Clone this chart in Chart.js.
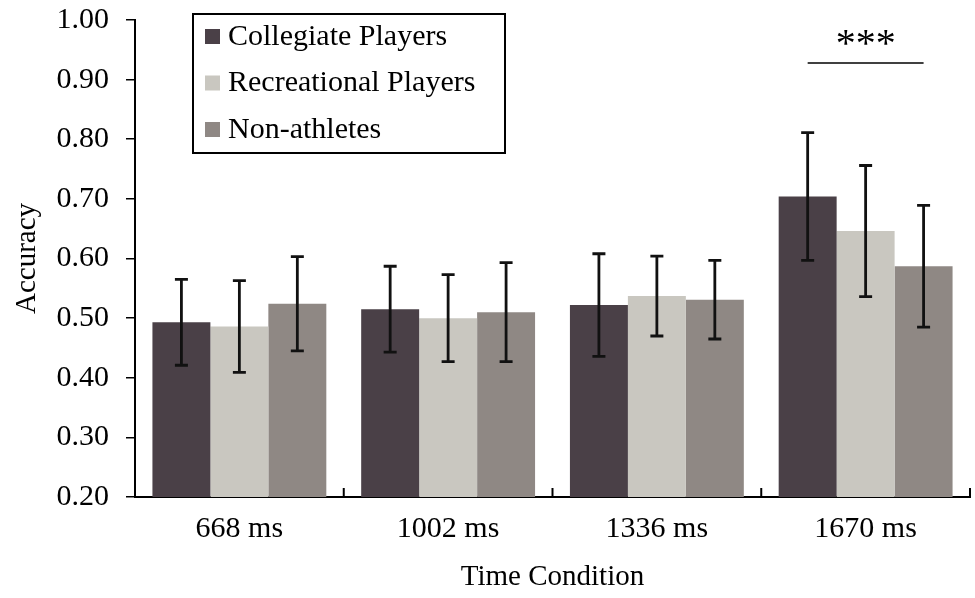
<!DOCTYPE html>
<html>
<head>
<meta charset="utf-8">
<script src="https://cdn.jsdelivr.net/npm/chart.js@4/dist/chart.umd.min.js"></script>
<style>
body{margin:0;background:#fff;}
#wrap{position:relative;width:975px;height:598px;}
</style>
</head>
<body>
<div id="wrap"><canvas id="accuracyChart"></canvas></div>
<script>
const timeLabels=['668 ms','1002 ms','1336 ms','1670 ms'];
const groupNames=['Collegiate Players','Recreational Players','Non-athletes'];
const collegiate=[0.493,0.515,0.522,0.704];
const recreational=[0.486,0.500,0.537,0.646];
const nonAthletes=[0.524,0.510,0.531,0.587];
const collegiateErr=[0.072,0.072,0.086,0.107];
const recreationalErr=[0.077,0.073,0.067,0.110];
const nonAthletesErr=[0.079,0.083,0.066,0.102];
const yTickValues=[0.20,0.30,0.40,0.50,0.60,0.70,0.80,0.90,1.00];
// significance bracket over 1670 ms
const sigIndex=3;
const sigLevel=0.928;
const sigText='***';

const barColors=['#4a4047','#c9c7c0','#8f8884'];
const serif='"Liberation Serif", "Times New Roman", serif';

const errorBars={
    id:'errorBars',
    afterDatasetsDraw(chart){
        const c=chart.ctx;
        const y=chart.scales.y;
        c.save();
        c.strokeStyle='#111';
        c.lineWidth=2.8;
        chart.data.datasets.forEach((ds,di)=>{
            const meta=chart.getDatasetMeta(di);
            meta.data.forEach((bar,i)=>{
                const top=y.getPixelForValue(ds.data[i]+ds.err[i]);
                const bot=y.getPixelForValue(ds.data[i]-ds.err[i]);
                c.beginPath();
                c.moveTo(bar.x,top); c.lineTo(bar.x,bot);
                c.moveTo(bar.x-6.5,top); c.lineTo(bar.x+6.5,top);
                c.moveTo(bar.x-6.5,bot); c.lineTo(bar.x+6.5,bot);
                c.stroke();
            });
        });
        // inward category ticks on the x axis
        const x=chart.scales.x;
        const step=x.width/timeLabels.length;
        c.lineWidth=2;
        c.strokeStyle='#000';
        for(let i=1;i<=timeLabels.length;i++){
            const px=x.left+i*step;
            c.beginPath();
            c.moveTo(px,x.top); c.lineTo(px,x.top-9);
            c.stroke();
        }
        // significance line
        const x0=chart.getDatasetMeta(0).data[sigIndex].x;
        const x1=chart.getDatasetMeta(2).data[sigIndex].x;
        const ly=y.getPixelForValue(sigLevel);
        c.lineWidth=1.5;
        c.beginPath();
        c.moveTo(x0,ly); c.lineTo(x1,ly);
        c.stroke();
        c.fillStyle='#000';
        c.font='40px '+serif;
        c.textAlign='center';
        c.textBaseline='alphabetic';
        c.fillText(sigText,(x0+x1)/2,ly-7);
        c.restore();
    }
};

const boxLegend={
    id:'boxLegend',
    afterDraw(chart){
        const c=chart.ctx;
        const a=chart.chartArea;
        const bx=a.left+58, by=a.top-6, bw=312, bh=139;
        c.save();
        c.fillStyle='#fff';
        c.fillRect(bx,by,bw,bh);
        c.strokeStyle='#000';
        c.lineWidth=2;
        c.strokeRect(bx,by,bw,bh);
        c.font='30px '+serif;
        c.textBaseline='middle';
        c.textAlign='left';
        chart.data.datasets.forEach((ds,i)=>{
            const cy=by+23+i*46.5;
            c.fillStyle=ds.backgroundColor;
            c.fillRect(bx+12,cy-8,15,15);
            c.fillStyle='#000';
            c.fillText(ds.label,bx+35,cy);
        });
        c.restore();
    }
};

const ctx=document.getElementById('accuracyChart').getContext('2d');
new Chart(ctx,{
    type:'bar',
    data:{
        labels:timeLabels,
        datasets:[
            {label:groupNames[0],data:collegiate,err:collegiateErr,backgroundColor:barColors[0]},
            {label:groupNames[1],data:recreational,err:recreationalErr,backgroundColor:barColors[1]},
            {label:groupNames[2],data:nonAthletes,err:nonAthletesErr,backgroundColor:barColors[2]}
        ]
    },
    options:{
        responsive:true,
        maintainAspectRatio:false,
        animation:false,
        devicePixelRatio:1,
        layout:{padding:{top:20,right:5,left:0,bottom:0}},
        datasets:{bar:{categoryPercentage:0.833,barPercentage:1.0}},
        plugins:{
            legend:{display:false},
            tooltip:{enabled:false}
        },
        scales:{
            x:{
                grid:{display:false},
                border:{display:true,color:'#000',width:2},
                ticks:{color:'#000',padding:6,font:{family:serif,size:30}},
                title:{display:true,text:'Time Condition',color:'#000',font:{family:serif,size:29},padding:{top:0,bottom:3}},
                afterFit:s=>{s.height=101;}
            },
            y:{
                min:0.2,
                max:1.0,
                afterBuildTicks:s=>{s.ticks=yTickValues.map(v=>({value:v}));},
                grid:{drawOnChartArea:false,drawTicks:true,tickLength:9,color:'#000',lineWidth:1.5},
                border:{display:true,color:'#000',width:2},
                ticks:{color:'#000',padding:17,font:{family:serif,size:30},callback:v=>Number(v).toFixed(2)},
                title:{display:true,text:'Accuracy',color:'#000',font:{family:serif,size:29},padding:{top:10,bottom:0}},
                afterFit:s=>{s.width=135;s.paddingTop=0;s.paddingBottom=0;}
            }
        }
    },
    plugins:[errorBars,boxLegend]
});
</script>
</body>
</html>
